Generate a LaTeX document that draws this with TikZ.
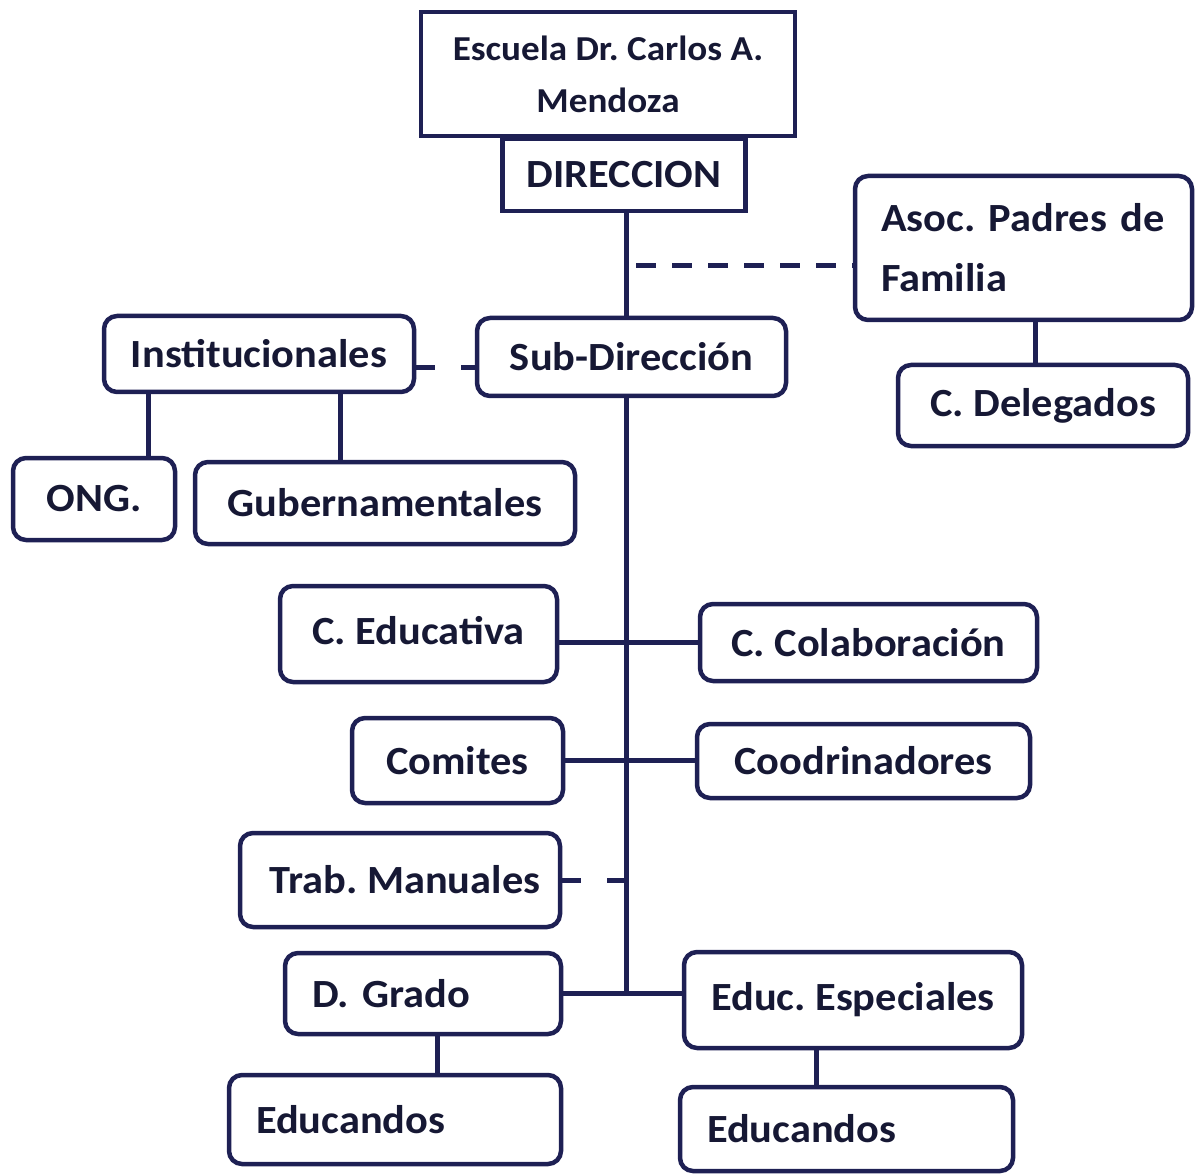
\documentclass[tikz,border=0pt]{standalone}
\usepackage{fontspec}
\setmainfont{Carlito}[FakeStretch=1.06]
\usetikzlibrary{positioning}
\definecolor{azulorg}{RGB}{30,32,84}
\definecolor{textorg}{RGB}{22,24,52}
\frenchspacing

\begin{document}
\begin{tikzpicture}[x=1pt,y=-1pt,
  caja/.style={draw=azulorg, line width=4.5pt, rounded corners=13pt, text=textorg,
    inner sep=0pt, font=\fontsize{40}{52}\selectfont\bfseries},
  cajarecta/.style={caja, sharp corners},
  enlace/.style={draw=azulorg, line width=5pt},
  guion/.style={enlace, dash pattern=on 20pt off 16pt},
  guioncorto/.style={enlace, dash pattern=on 19pt off 26pt}]
\useasboundingbox (0,0) rectangle (1195,1174);
% cabecera
\node[cajarecta, minimum width=374pt, minimum height=124pt, align=center,
  font=\fontsize{35}{52}\selectfont\bfseries] (escuela) at (608,74) {Escuela Dr. Carlos A.\\Mendoza};
\node[cajarecta, minimum width=243pt, minimum height=72pt] (dir) at (624,175) {DIRECCION};
\node[caja, minimum width=337pt, minimum height=144pt, text width=285pt, align=left,
  font=\fontsize{40}{60}\selectfont\bfseries] (asoc) at (1023.5,248) {Asoc. Padres de\\Familia};
\node[caja, minimum width=290pt, minimum height=81pt] (deleg) at (1043,405.5) {C. Delegados};
\node[caja, minimum width=309pt, minimum height=78pt] (subdir) at (631.5,357) {Sub-Dirección};
\node[caja, minimum width=310pt, minimum height=76pt] (inst) at (259,354) {Institucionales};
\node[caja, minimum width=162pt, minimum height=82pt] (ong) at (94,499) {ONG.};
\node[caja, minimum width=380pt, minimum height=82pt] (gub) at (385,503) {Gubernamentales};
% ramas del tronco
\node[caja, minimum width=277pt, minimum height=96pt] (ceduc) at (418.5,634) {\raisebox{8pt}{C. Educativa}};
\node[caja, minimum width=337pt, minimum height=77pt] (ccolab) at (868.5,642.5) {C. Colaboración};
\node[caja, minimum width=211pt, minimum height=85pt] (comites) at (457.5,760.5) {Comites};
\node[caja, minimum width=333pt, minimum height=74pt] (coord) at (863.5,761) {Coodrinadores};
\node[caja, minimum width=320pt, minimum height=94pt] (trab) at (400,880) {\hspace{10pt}Trab. Manuales};
\node[caja, minimum width=276pt, minimum height=81pt, text width=222pt, align=left] (dgrado) at (423,993.5) {D. Grado};
\node[caja, minimum width=338pt, minimum height=96pt] (educesp) at (853,1000) {Educ. Especiales};
\node[caja, minimum width=332pt, minimum height=89pt, text width=278pt, align=left] (educa) at (395,1119.5) {Educandos};
\node[caja, minimum width=333pt, minimum height=84pt, text width=279pt, align=left] (educb) at (846.5,1129) {Educandos};
\coordinate (tronco) at (626,993);
\coordinate (asocpunto) at (636,266);
% conexiones
\draw[enlace] (dir.south -| tronco) -- (subdir.north -| tronco);
\draw[enlace] (subdir.south -| tronco) -- (tronco);
\draw[guion] (asocpunto) -- (asocpunto -| asoc.west);
\draw[enlace] ([xshift=12pt]asoc.south) -- ([xshift=12pt]asoc.south |- deleg.north);
\draw[guioncorto] ([yshift=-14pt]inst.east) -- ([yshift=-14pt]inst.east -| subdir.west);
\draw[enlace] ([xshift=-111pt]inst.south) -- ([xshift=-111pt]inst.south |- ong.north);
\draw[enlace] ([xshift=81pt]inst.south) -- ([xshift=81pt]inst.south |- gub.north);
\draw[enlace] (ccolab.west) -- (ccolab.west -| ceduc.east);
\draw[enlace] (comites.east) -- (comites.east -| coord.west);
\draw[guioncorto] (trab.east) -- (trab.east -| tronco);
\draw[enlace] (dgrado.east) -- (dgrado.east -| educesp.west);
\draw[enlace] ([xshift=14pt]dgrado.south) -- ([xshift=14pt]dgrado.south |- educa.north);
\draw[enlace] ([xshift=-37pt]educesp.south) -- ([xshift=-37pt]educesp.south |- educb.north);
\end{tikzpicture}
\end{document}
